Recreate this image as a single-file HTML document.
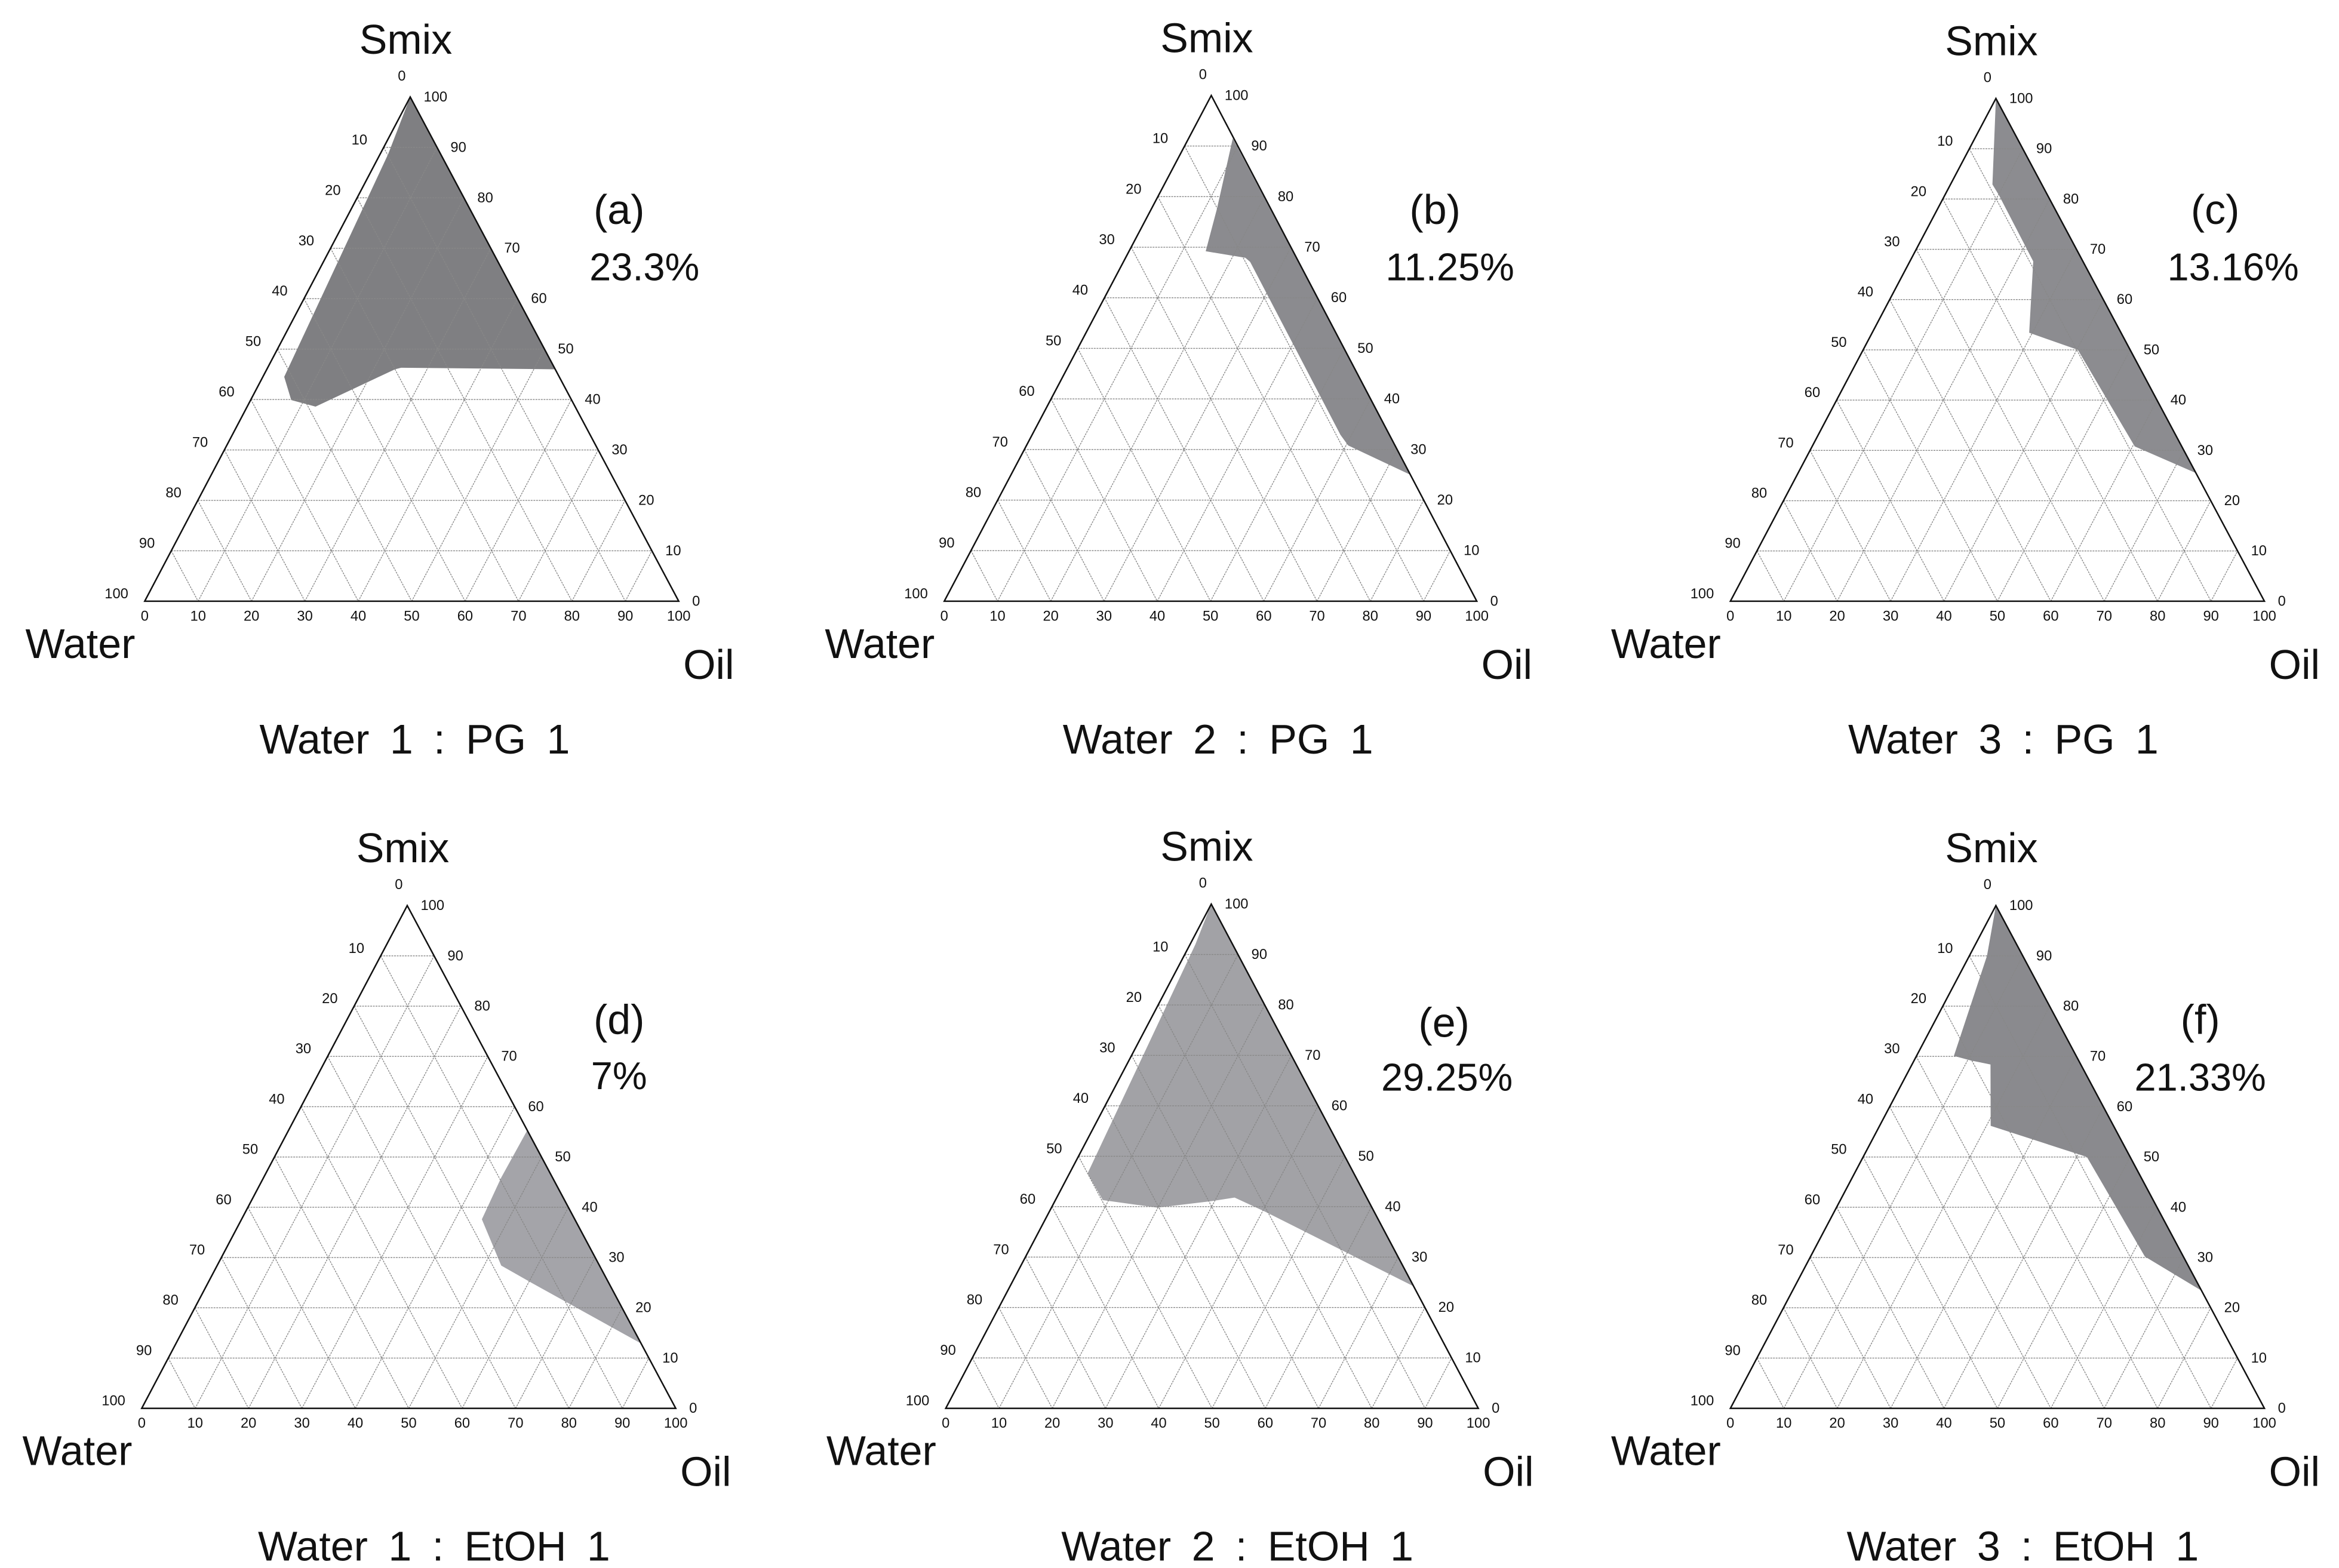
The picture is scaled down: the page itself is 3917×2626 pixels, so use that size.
<!DOCTYPE html>
<html><head><meta charset="utf-8"><title>Ternary phase diagrams</title>
<style>
html,body{margin:0;padding:0;background:#fff;}
svg{display:block;}
text{font-family:"Liberation Sans",sans-serif;fill:#111;}
</style></head>
<body>
<svg id="fig" width="3917" height="2626" viewBox="0 0 1568 1051" preserveAspectRatio="none" xmlns="http://www.w3.org/2000/svg"></svg>
<script>
// Region polygons: [oil %, smix %] (water = 100 - oil - smix)
const regionA = [[0,100],[54,46],[25,46.3],[24,46],[12.8,38.6],[7.6,39.9],[4,44.5],[1.5,88.7]];
const regionB = [[8.3,91.5],[75,25],[60.4,30.8],[57.9,32.9],[23.8,67.1],[22.5,67.9],[14.4,69.2],[12.3,77.6]];
const regionC = [[0,100],[74.5,25.5],[60.4,30.8],[40.2,50],[29.4,53.4],[23.1,67.6],[10.1,80.8],[7.85,82.9]];
const regionD = [[44.7,55.3],[87.1,12.9],[60.3,25.1],[53.2,28.4],[45,37.6],[44.5,45.9]];
const regionE = [[0,100],[75.8,24.2],[40.3,39.1],[33.4,41.8],[29.5,41.1],[19.9,39.8],[8.9,41.3],[3.4,46.6],[1.0,92]];
const regionF = [[0,100],[76.6,23.4],[62.6,30.2],[41.9,50],[20.8,56.2],[14.7,68.4],[10.6,69.2],[7,70.1],[3.3,90]];
const panelLetters = ["(a)","(b)","(c)","(d)","(e)","(f)"];
const panelPercents = ["23.3%","11.25%","13.16%","7%","29.25%","21.33%"];
const panelSubtitles = ["Water 1 : PG 1","Water 2 : PG 1","Water 3 : PG 1","Water 1 : EtOH 1","Water 2 : EtOH 1","Water 3 : EtOH 1"];
const tickValues = [0,10,20,30,40,50,60,70,80,90,100];

const regions = [regionA,regionB,regionC,regionD,regionE,regionF];
const fills = ["#7f7f82","#8b8b8f","#8c8c90","#a4a4a9","#a2a2a6","#8a8a8e"];
const tri = [
  {apex:[275,65],bl:[97,403],br:[455,403]},
  {apex:[812,64],bl:[633,403],br:[990,403]},
  {apex:[1338,66],bl:[1160,403],br:[1518,403]},
  {apex:[273,607],bl:[95,944],br:[453,944]},
  {apex:[812,606],bl:[634,944],br:[991,944]},
  {apex:[1338,607],bl:[1160,944],br:[1518,944]}
];
const letterPos = [[415,150],[962,150],[1485,150],[415,693],[968,695],[1475,693]];
const pctPos = [[432,188],[972,188],[1497,188],[415,730],[970,731],[1475,731]];
const subShift = [2,5,4,17,17,17];

const NS = "http://www.w3.org/2000/svg";
const svg = document.getElementById("fig");
function mk(tag, attrs, parent){
  const e = document.createElementNS(NS, tag);
  for (const k in attrs) e.setAttribute(k, attrs[k]);
  (parent||svg).appendChild(e);
  return e;
}
function pt(t, oil, smix){
  const o = oil/100, s = smix/100, w = 1-o-s;
  return [w*t.bl[0]+o*t.br[0]+s*t.apex[0], w*t.bl[1]+o*t.br[1]+s*t.apex[1]];
}

tri.forEach((t,i)=>{
  const g = mk("g",{});
  
  
  const poly = mk("polygon",{points: regions[i].map(p=>pt(t,p[0],p[1]).join(",")).join(" "), fill: fills[i], stroke:"none"}, g);
  
  
  for (let k=10;k<100;k+=10){
    const a1=pt(t,0,k), a2=pt(t,100-k,k);
    const b1=pt(t,k,0), b2=pt(t,k,100-k);
    const c1=pt(t,0,100-k), c2=pt(t,100-k,0);
    [[a1,a2],[b1,b2],[c1,c2]].forEach(([p,q])=>{
      const l = mk("line",{x1:p[0],y1:p[1],x2:q[0],y2:q[1],stroke:"#888","stroke-width":0.55,"stroke-dasharray":"1.2,0.6"}, g);
      
      
    });
  }
  const edge = mk("polygon",{points:[t.apex,t.bl,t.br].map(p=>p.join(",")).join(" "),fill:"none",stroke:"#111","stroke-width":1}, g);
  
  
  tickValues.forEach(v=>{
    const lp = pt(t,0,100-v);
    const tl = mk("text",{x:lp[0]-(v===0?3:11), y:lp[1]+(v===0?-11:-2), "font-size":9.5, "text-anchor":"end"}, g);
    tl.textContent = v;
    
    
    const rp = pt(t,100-v,v);
    const tr = mk("text",{x:rp[0]+9, y:rp[1]+3, "font-size":9.5, "text-anchor":"start"}, g);
    tr.textContent = v;
    
    
    const bp = pt(t,v,0);
    const tb = mk("text",{x:bp[0], y:bp[1]+13, "font-size":9.5, "text-anchor":"middle"}, g);
    tb.textContent = v;
    
    
  });
  const sm = mk("text",{x:t.apex[0]-3, y:t.apex[1]-29, "font-size":28, "text-anchor":"middle"}, g);
  sm.textContent = "Smix";
  
  
  const wa = mk("text",{x:t.bl[0]-80, y:t.bl[1]+38, "font-size":28}, g);
  wa.textContent = "Water";
  
  
  const oi = mk("text",{x:t.br[0]+3, y:t.br[1]+52, "font-size":28}, g);
  oi.textContent = "Oil";
  
  
  const le = mk("text",{x:letterPos[i][0], y:letterPos[i][1], "font-size":28, "text-anchor":"middle"}, g);
  le.textContent = panelLetters[i];
  
  
  const pc = mk("text",{x:pctPos[i][0], y:pctPos[i][1], "font-size":26, "text-anchor":"middle"}, g);
  pc.textContent = panelPercents[i];
  
  
  const st = mk("text",{x:(t.bl[0]+t.br[0])/2+subShift[i], y:t.bl[1]+102, "font-size":28, "text-anchor":"middle", "word-spacing":6}, g);
  st.textContent = panelSubtitles[i];
  
  
});
</script>
</body></html>
